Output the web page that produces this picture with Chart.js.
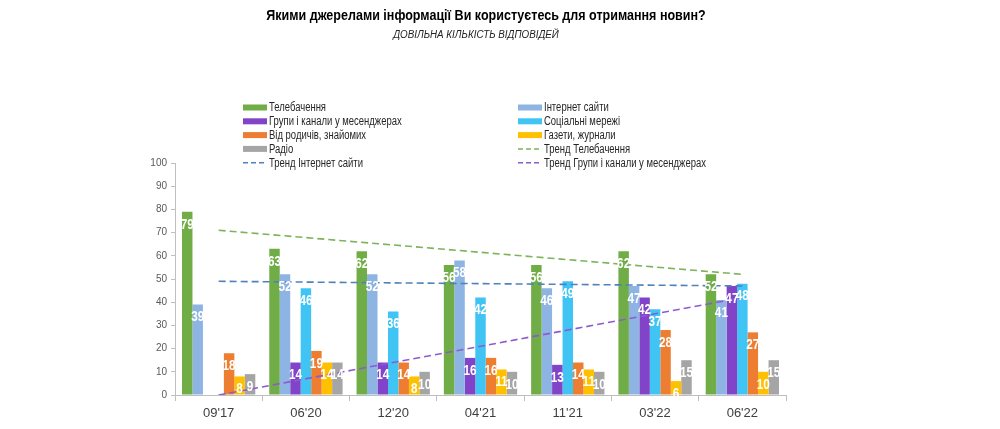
<!DOCTYPE html>
<html>
<head>
<meta charset="utf-8">
<script src="https://cdn.jsdelivr.net/npm/chart.js@4"></script>
<style>
  html, body { margin: 0; padding: 0; background: #fff; }
  #wrap { width: 1000px; height: 429px; position: relative; }
</style>
</head>
<body>
<div id="wrap"><canvas id="sourcesChart"></canvas></div>
<script>
// Waves of the survey
const waves = ["09'17", "06'20", "12'20", "04'21", "11'21", "03'22", "06'22"];

// Shares of respondents, %
const tv        = [79, 63, 62, 56, 56, 62, 52];
const websites  = [39, 52, 52, 58, 46, 47, 41];
const messenger = [null, 14, 14, 16, 13, 42, 47];
const social    = [null, 46, 36, 42, 49, 37, 48];
const relatives = [18, 19, 14, 16, 14, 28, 27];
const press     = [8, 14, 8, 11, 11, 6, 10];
const radio     = [9, 14, 10, 10, 10, 15, 15];

// Trend lines (start / end values)
const trendTv        = [71, null, null, null, null, null, 52];
const trendWebsites  = [49, null, null, null, null, null, 47];
const trendMessenger = [0, null, null, null, null, null, 42];

const yTicks = [0, 10, 20, 30, 40, 50, 60, 70, 80, 90, 100];

const titleText = 'Якими джерелами інформації Ви користуєтесь для отримання новин?';
const subtitleText = 'ДОВІЛЬНА КІЛЬКІСТЬ ВІДПОВІДЕЙ';

const sans = "'Liberation Sans', Arial, sans-serif";

function bar(label, data, color) {
    return { type: 'bar', label: label, data: data, backgroundColor: color, order: 1 };
}
function trend(label, data, color) {
    return {
        type: 'line', label: label, data: data, borderColor: color, borderWidth: 1.6,
        borderDash: [7, 4], pointRadius: 0, spanGaps: true, fill: false, order: 0
    };
}

// draw text squeezed horizontally (the original uses a narrow face)
function narrowText(ctx, text, x, y, squeeze) {
    ctx.save();
    ctx.translate(x, y);
    ctx.scale(squeeze, 1);
    ctx.fillText(text, 0, 0);
    ctx.restore();
}

// white value labels inside the top of every bar
const barLabels = {
    id: 'barLabels',
    afterDatasetsDraw(chart) {
        const ctx = chart.ctx;
        ctx.save();
        ctx.font = 'bold 14px ' + sans;
        ctx.fillStyle = '#ffffff';
        ctx.textAlign = 'center';
        ctx.textBaseline = 'middle';
        chart.data.datasets.forEach((ds, i) => {
            if (ds.type !== 'bar') return;
            chart.getDatasetMeta(i).data.forEach((el, j) => {
                if (ds.data[j] == null) return;
                narrowText(ctx, String(ds.data[j]), el.x, el.y + 13, 0.84);
            });
        });
        ctx.restore();
    }
};

// title, subtitle and the two-column legend above the plot
const header = {
    id: 'header',
    afterDraw(chart) {
        const ctx = chart.ctx;
        ctx.save();
        ctx.textBaseline = 'middle';
        ctx.textAlign = 'center';
        ctx.fillStyle = '#000';
        ctx.font = 'bold 14px ' + sans;
        narrowText(ctx, titleText, 486, 16, 0.895);
        ctx.font = 'italic 10px ' + sans;
        ctx.fillStyle = '#222';
        narrowText(ctx, subtitleText, 476, 35, 0.98);

        const cols = [243, 518];
        const rowY = 107.5, rowH = 13.8;
        ctx.textAlign = 'left';
        ctx.font = '12px ' + sans;
        chart.data.datasets.forEach((ds, i) => {
            const x = cols[i % 2];
            const y = rowY + Math.floor(i / 2) * rowH;
            if (ds.type === 'bar') {
                ctx.fillStyle = ds.backgroundColor;
                ctx.fillRect(x, y - 3, 24, 6);
            } else {
                ctx.strokeStyle = ds.borderColor;
                ctx.lineWidth = 1.5;
                ctx.setLineDash([5, 3]);
                ctx.beginPath();
                ctx.moveTo(x, y);
                ctx.lineTo(x + 24, y);
                ctx.stroke();
                ctx.setLineDash([]);
            }
            ctx.fillStyle = '#262626';
            narrowText(ctx, ds.label, x + 26, y + 0.5, 0.79);
        });
        ctx.restore();
    }
};

new Chart(document.getElementById('sourcesChart'), {
    data: {
        labels: waves,
        datasets: [
            bar('Телебачення', tv, '#70AD47'),
            bar('Інтернет сайти', websites, '#8DB4E2'),
            bar('Групи і канали у месенджерах', messenger, '#8144C8'),
            bar('Соціальні мережі', social, '#40C4F4'),
            bar('Від родичів, знайомих', relatives, '#ED7D31'),
            bar('Газети, журнали', press, '#FFC000'),
            bar('Радіо', radio, '#A5A5A5'),
            trend('Тренд Телебачення', trendTv, '#7CB35B'),
            trend('Тренд Інтернет сайти', trendWebsites, '#4F81BD'),
            trend('Тренд Групи і канали у месенджерах', trendMessenger, '#8E5AD0')
        ]
    },
    options: {
        responsive: true,
        maintainAspectRatio: false,
        animation: false,
        datasets: { bar: { categoryPercentage: 0.84, barPercentage: 1.0 } },
        layout: { padding: { left: 0, right: 214, top: 163, bottom: 0 } },
        plugins: {
            legend: { display: false },
            tooltip: { enabled: false }
        },
        scales: {
            x: {
                grid: { offset: true, drawOnChartArea: false, tickLength: 6, color: '#bfbfbf' },
                border: { color: '#bfbfbf' },
                ticks: { color: '#404040', font: { family: sans, size: 13 }, padding: 5 },
                afterFit: s => { s.height = 34; }
            },
            y: {
                min: 0, max: 100,
                afterBuildTicks: s => { s.ticks = yTicks.map(v => ({ value: v })); },
                grid: { drawOnChartArea: false, tickLength: 4, color: '#bfbfbf' },
                border: { color: '#bfbfbf' },
                ticks: { color: '#595959', font: { family: sans, size: 10 }, padding: 4 },
                afterFit: s => { s.width = 175; }
            }
        }
    },
    plugins: [barLabels, header]
});
</script>
</body>
</html>
